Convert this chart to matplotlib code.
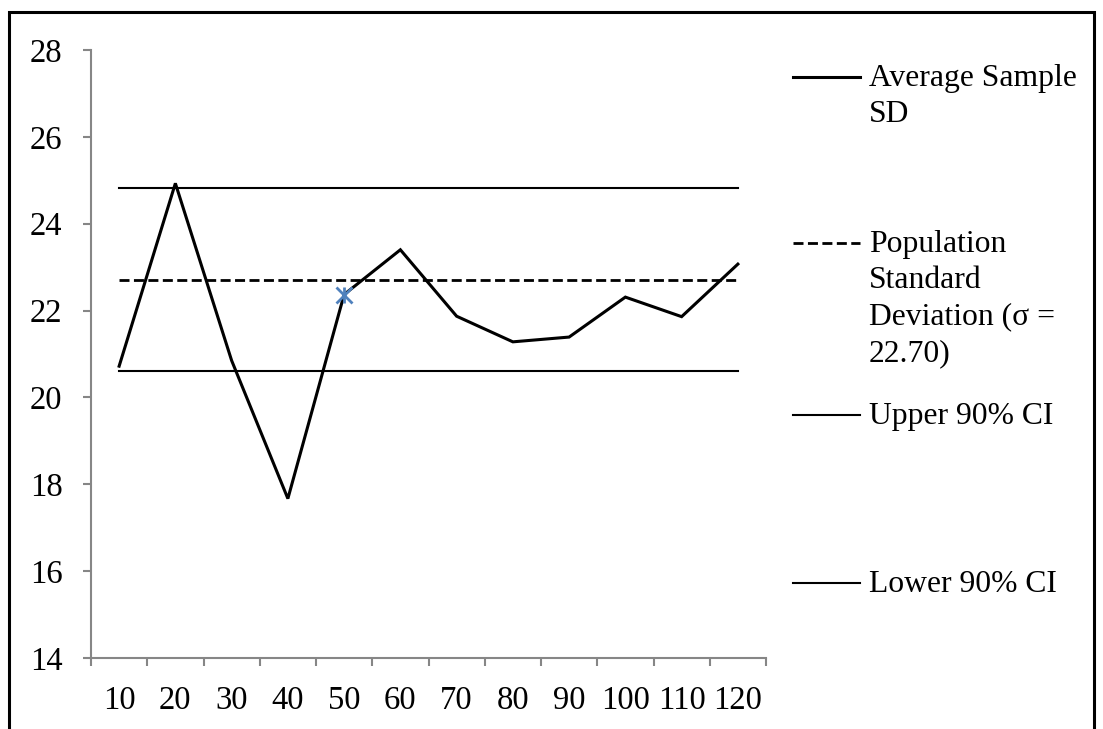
import matplotlib
matplotlib.use("Agg")
import matplotlib.pyplot as plt
from matplotlib.lines import Line2D
from matplotlib.patches import Rectangle

# ---- data ----
sample_sizes = ["10", "20", "30", "40", "50", "60", "70", "80", "90", "100", "110", "120"]
avg_sample_sd = [20.72, 24.93, 20.85, 17.67, 22.37, 23.40, 21.87, 21.28, 21.39, 22.31, 21.86, 23.07]
population_sd = 22.70
upper_ci = 24.83
lower_ci = 20.62
marked_index = 4  # stray marker at sample size 50
y_ticks = [14, 16, 18, 20, 22, 24, 26, 28]

legend_labels = ["Average Sample\nSD",
                 "Population\nStandard\nDeviation (\u03c3 =\n22.70)",
                 "Upper 90% CI",
                 "Lower 90% CI"]

W, H = 1103, 729
fig = plt.figure(figsize=(W / 100, H / 100), dpi=100)
plt.rcParams['font.family'] = ['Liberation Serif', 'DejaVu Serif']
FS = 23.5
LFS = 22.8

ax = fig.add_axes([91 / W, 1 - 658 / H, (766 - 91) / W, (658 - 50) / H])
x = list(range(1, len(sample_sizes) + 1))
n = len(x)

ax.plot(x, avg_sample_sd, color="black", lw=2.2, solid_joinstyle="miter", zorder=4)
ax.plot(x, [population_sd] * n, color="black", lw=2.0, linestyle=(0, (3.6, 1.6)), zorder=3)
ax.plot(x, [upper_ci] * n, color="black", lw=1.5, zorder=3)
ax.plot(x, [lower_ci] * n, color="black", lw=1.5, zorder=3)

mx, my = x[marked_index], avg_sample_sd[marked_index]
ax.plot([mx], [my], marker="x", color="#4F81BD", ms=11, mew=2.0, zorder=5)
ax.plot([mx], [my], marker="|", color="#4F81BD", ms=12, mew=2.0, zorder=5)

ax.set_xlim(0.5, n + 0.5)
ax.set_ylim(14, 28)
ax.set_yticks(y_ticks)
ax.set_yticklabels([str(t) for t in y_ticks])
ax.set_xticks([i + 0.5 for i in range(0, n + 1)])
ax.set_xticklabels([])
ax.set_xticks(x, minor=True)
ax.set_xticklabels(sample_sizes, minor=True)

gray = "#868686"
for s in ["top", "right"]:
    ax.spines[s].set_visible(False)
for s in ["left", "bottom"]:
    ax.spines[s].set_color(gray)
    ax.spines[s].set_linewidth(1.5)
ax.tick_params(axis="both", which="major", direction="out", length=6, width=1.5,
               color=gray, labelsize=FS, labelcolor="black")
ax.tick_params(axis="y", which="major", pad=14.5)
ax.tick_params(axis="x", which="minor", length=0, pad=20, labelsize=FS, labelcolor="black")

# ---- legend drawn manually (Excel style) ----
legend_styles = [dict(lw=2.2, ls="-"), dict(lw=2.0, ls=(0, (3.6, 1.6))),
                 dict(lw=1.5, ls="-"), dict(lw=1.5, ls="-")]
legend_y = [77, 243, 415, 583]
for lab, st, yy in zip(legend_labels, legend_styles, legend_y):
    yf = 1 - yy / H
    fig.add_artist(Line2D([793 / W, 860 / W], [yf, yf], color="black",
                          lw=st["lw"], linestyle=st["ls"]))
    fig.text(869 / W, 1 - (yy - 13) / H, lab, fontsize=LFS, va="top", ha="left",
             linespacing=1.33)

# ---- outer frame (bottom cut off) ----
fig.add_artist(Rectangle((8.5 / W, -0.05), (1094 - 8.5) / W, 1.05 - 12.5 / H,
                         fill=False, edgecolor="black", lw=2.2,
                         transform=fig.transFigure))

fig.savefig("out.png", dpi=100)
